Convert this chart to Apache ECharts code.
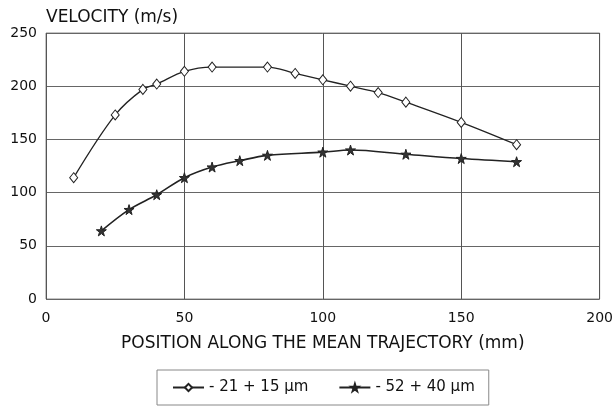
<!DOCTYPE html>
<html>
<head>
<meta charset="utf-8">
<script src="https://cdn.jsdelivr.net/npm/echarts@6/dist/echarts.min.js"></script>
<style>
  html, body { margin: 0; padding: 0; background: #fff; }
  #chart { width: 616px; height: 414px; }
</style>
</head>
<body>
<div id="chart"></div>
<script>
// Particle velocity along the mean trajectory, two size classes
const fineName = '- 21 + 15 μm';
const finePos = [10, 25, 35, 40, 50, 60, 80, 90, 100, 110, 120, 130, 150, 170];
const fineVel = [114, 173, 197, 202, 214, 218, 218, 212, 206, 200, 194, 185, 166, 145];

const coarseName = '- 52 + 40 μm';
const coarsePos = [20, 30, 40, 50, 60, 70, 80, 100, 110, 130, 150, 170];
const coarseVel = [64, 84, 98, 114, 124, 130, 135, 138, 140, 136, 132, 129];

const xTicks = { min: 0, max: 200, step: 50 };
const yTicks = { min: 0, max: 250, step: 50 };

const starPath = 'path://M50,0 L61,35 L98,35 L68,57 L79,91 L50,70 L21,91 L32,57 L2,35 L39,35 Z';
const font = 'DejaVu Sans';
const ink = '#222';
const textInk = '#111';

function pairs(xs, ys) { return xs.map((x, i) => [x, ys[i]]); }

const chart = echarts.init(document.getElementById('chart'), null, { renderer: 'canvas' });
chart.setOption({
  backgroundColor: '#ffffff',
  animation: false,
  grid: {
    left: 46, right: 16, top: 33, bottom: 115,
    show: true, borderColor: '#8a8a8a', borderWidth: 1
  },
  xAxis: {
    type: 'value',
    min: xTicks.min, max: xTicks.max, interval: xTicks.step,
    name: 'POSITION ALONG THE MEAN TRAJECTORY (mm)',
    nameLocation: 'middle', nameGap: 36,
    nameTextStyle: { fontFamily: font, fontSize: 17, color: textInk },
    axisLine: { show: false },
    axisTick: { show: false },
    axisLabel: { fontFamily: font, fontSize: 14, color: textInk, margin: 12 },
    splitLine: { show: true, lineStyle: { color: '#555', width: 1 } }
  },
  yAxis: {
    type: 'value',
    min: yTicks.min, max: yTicks.max, interval: yTicks.step,
    name: 'VELOCITY (m/s)',
    nameLocation: 'end', nameGap: 7,
    nameTextStyle: { fontFamily: font, fontSize: 17, color: textInk, align: 'left', verticalAlign: 'bottom' },
    axisLine: { show: false },
    axisTick: { show: false },
    axisLabel: { fontFamily: font, fontSize: 14, color: textInk, margin: 9 },
    splitLine: { show: true, lineStyle: { color: '#666', width: 1 } }
  },
  legend: {
    left: 157, top: 370,
    padding: [10, 14, 10, 15],
    itemGap: 30, itemWidth: 31, itemHeight: 9,
    borderColor: '#888', borderWidth: 1,
    textStyle: { fontFamily: font, fontSize: 15, color: textInk },
    data: [fineName, coarseName]
  },
  series: [
    {
      name: fineName,
      type: 'line',
      data: pairs(finePos, fineVel),
      smooth: 0.35,
      symbol: 'diamond',
      symbolSize: [8, 10],
      showAllSymbol: true,
      lineStyle: { color: ink, width: 1.3 },
      itemStyle: { color: '#fff', borderColor: ink, borderWidth: 1 }
    },
    {
      name: coarseName,
      type: 'line',
      data: pairs(coarsePos, coarseVel),
      smooth: 0.35,
      symbol: starPath,
      symbolSize: 10,
      showAllSymbol: true,
      lineStyle: { color: ink, width: 1.6 },
      itemStyle: { color: '#333', borderColor: '#222', borderWidth: 1 }
    }
  ]
});
</script>
</body>
</html>
